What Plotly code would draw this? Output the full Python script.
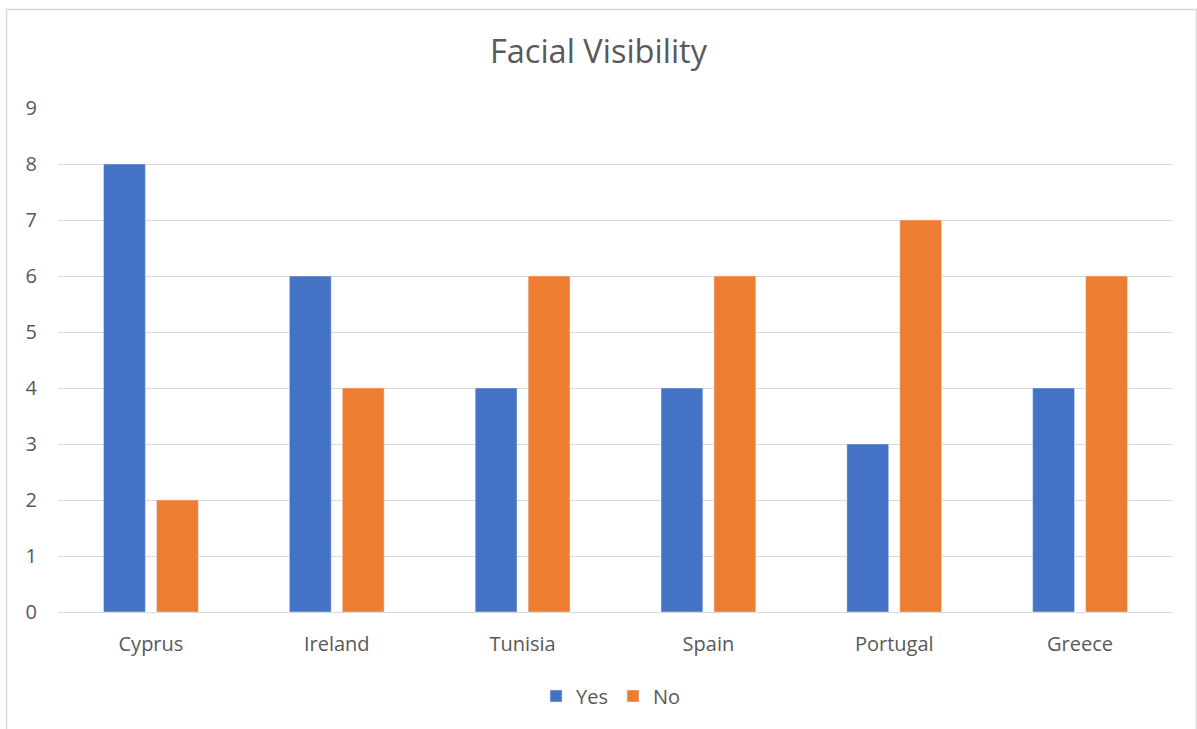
import plotly.graph_objects as go

countries = ["Cyprus", "Ireland", "Tunisia", "Spain", "Portugal", "Greece"]
yes_counts = [8, 6, 4, 4, 3, 4]
no_counts = [2, 4, 6, 6, 7, 6]

W, H = 1197, 729
L, R, T, B = 58, 24, 108, 117
pw, ph = W - L - R, H - T - B

fig = go.Figure()
fig.add_trace(go.Bar(name="Yes", x=countries, y=yes_counts, marker_color="#4472C4"))
fig.add_trace(go.Bar(name="No", x=countries, y=no_counts, marker_color="#ED7D31"))

font = "Open Sans, Liberation Sans, sans-serif"
text_color = "#595959"

def px_x(p):
    return (p - L) / pw

def px_y(p):
    return (H - B - p) / ph

fig.update_layout(
    width=W, height=H,
    margin=dict(l=L, r=R, t=T, b=B),
    paper_bgcolor="white", plot_bgcolor="white",
    barmode="group", bargap=0.43, bargroupgap=0.21,
    title=dict(text="Facial Visibility", x=0.5, xanchor="center",
               y=1 - 52 / H, yanchor="middle",
               font=dict(family=font, size=32.5, color=text_color)),
    font=dict(family=font, size=20, color=text_color),
    showlegend=True,
    legend=dict(orientation="h", x=0.496, xanchor="center",
                y=px_y(696), yanchor="middle",
                font=dict(family=font, size=20, color=text_color),
                itemwidth=30, traceorder="normal"),
    xaxis=dict(showgrid=False, showline=True, linecolor="#d9d9d9", linewidth=1,
               ticks="", ticklabelstandoff=14,
               tickfont=dict(family=font, size=20, color=text_color)),
    yaxis=dict(range=[0, 9], dtick=1, showgrid=True, gridcolor="#d9d9d9",
               gridwidth=1, zeroline=False, showline=False, ticks="",
               ticklabelstandoff=20,
               tickfont=dict(family=font, size=20, color=text_color)),
    shapes=[dict(type="rect", xref="paper", yref="paper",
                 x0=px_x(6.5), x1=px_x(1196.5), y0=px_y(740), y1=px_y(9.5),
                 line=dict(color="#d9d9d9", width=1.5), layer="below")],
)

fig.write_html("out.html")
